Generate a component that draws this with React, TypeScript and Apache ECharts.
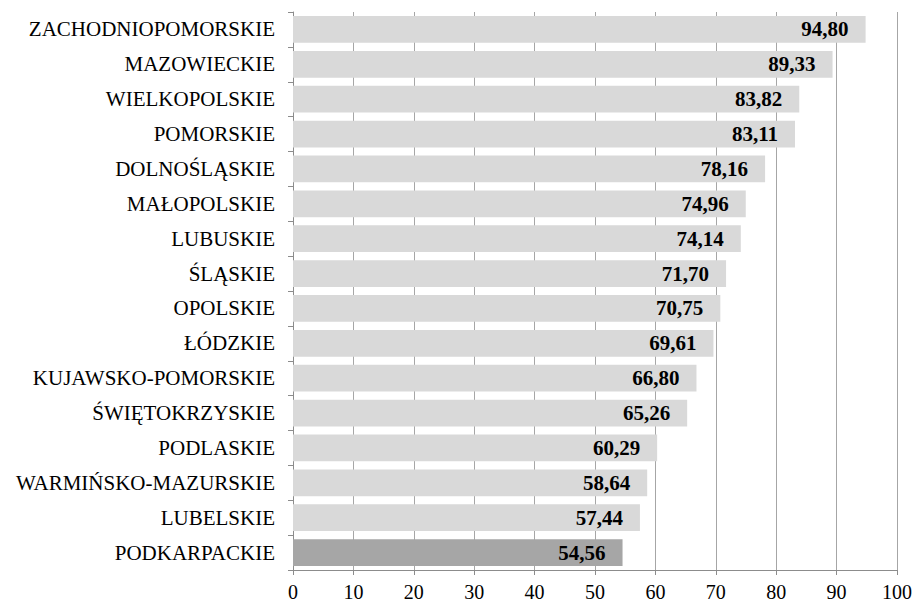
import React, { useEffect, useRef } from "react";
import * as echarts from "echarts";

const categories = [
  "ZACHODNIOPOMORSKIE",
  "MAZOWIECKIE",
  "WIELKOPOLSKIE",
  "POMORSKIE",
  "DOLNOŚLĄSKIE",
  "MAŁOPOLSKIE",
  "LUBUSKIE",
  "ŚLĄSKIE",
  "OPOLSKIE",
  "ŁÓDZKIE",
  "KUJAWSKO-POMORSKIE",
  "ŚWIĘTOKRZYSKIE",
  "PODLASKIE",
  "WARMIŃSKO-MAZURSKIE",
  "LUBELSKIE",
  "PODKARPACKIE",
];
const values = [94.8, 89.33, 83.82, 83.11, 78.16, 74.96, 74.14, 71.7, 70.75, 69.61, 66.8, 65.26, 60.29, 58.64, 57.44, 54.56];
const highlighted = "PODKARPACKIE";

export default function App() {
  const ref = useRef<HTMLDivElement>(null);
  useEffect(() => {
    if (!ref.current) return;
    const chart = echarts.init(ref.current, null, { renderer: "svg" });
    const font = "'Liberation Serif', 'Times New Roman', serif";
    chart.setOption({
      animation: false,
      textStyle: { fontFamily: font },
      grid: { left: 293, right: 20, top: 12, bottom: 32, containLabel: false },
      xAxis: {
        type: "value",
        min: 0,
        max: 100,
        interval: 10,
        axisLine: { show: true, lineStyle: { color: "#8c8c8c", width: 1 } },
        axisTick: { show: true, length: 5, lineStyle: { color: "#8c8c8c" } },
        axisLabel: { color: "#000", fontSize: 20, fontFamily: font, margin: 12 },
        splitLine: { show: true, lineStyle: { color: "#a6a6a6", width: 1 } },
      },
      yAxis: {
        type: "category",
        data: categories,
        inverse: true,
        axisLine: { show: true, lineStyle: { color: "#8c8c8c", width: 1 } },
        axisTick: { show: true, length: 5, lineStyle: { color: "#8c8c8c" } },
        axisLabel: { color: "#000", fontSize: 21, fontFamily: font, margin: 18 },
      },
      series: [
        {
          type: "bar",
          barCategoryGap: "23%",
          data: values.map((v, i) => ({
            value: v,
            itemStyle: { color: categories[i] === highlighted ? "#a6a6a6" : "#d9d9d9" },
          })),
          label: {
            show: true,
            position: "insideRight",
            distance: 17,
            color: "#000",
            fontWeight: "bold",
            fontSize: 21,
            fontFamily: font,
            formatter: (p: any) => p.value.toFixed(2).replace(".", ","),
          },
        },
      ],
    });
    return () => chart.dispose();
  }, []);
  return <div ref={ref} style={{ width: 917, height: 602, position: "absolute", left: 0, top: 0 }} />;
}
